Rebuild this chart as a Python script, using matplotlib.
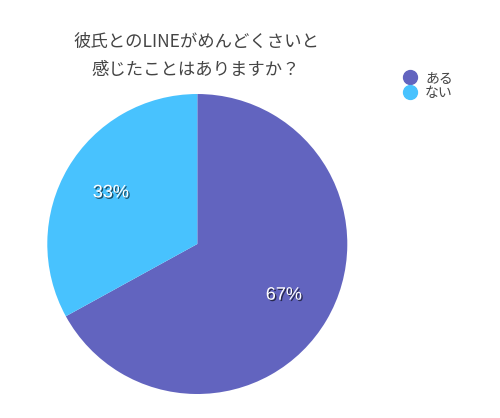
import matplotlib
matplotlib.use("Agg")
import matplotlib.pyplot as plt
import matplotlib.patheffects as pe
from matplotlib.lines import Line2D

plt.rcParams['font.family'] = ['Noto Sans CJK JP', 'DejaVu Sans']

# data
labels = ["ある", "ない"]
values = [67, 33]
colors = ["#6264BF", "#48C2FE"]
title_lines = ["彼氏とのLINEがめんどくさいと", "感じたことはありますか？"]

fig = plt.figure(figsize=(5, 4.18), dpi=100)
fig.patch.set_facecolor("white")

# pie axes: center ~ (197, 244) px, radius ~150 px
ax = fig.add_axes([0.0946, 0.0574, 0.6, 0.7177])
wedges, texts, autotexts = ax.pie(
    values, colors=colors, startangle=90, counterclock=False,
    autopct=lambda p: f"{p:.0f}%", pctdistance=0.67,
    wedgeprops=dict(linewidth=0, edgecolor="none"),
)
ax.set_xlim(-1.0, 1.0)
ax.set_ylim(-1.0, 1.0)

for t in autotexts:
    t.set_color("white")
    t.set_fontsize(13)
    t.set_family(["Liberation Sans", "DejaVu Sans"])
    t.set_path_effects([pe.withSimplePatchShadow(offset=(1, -1), shadow_rgbFace="black", alpha=0.6)])

# title
fig.text(196 / 500, 1 - 42 / 418, title_lines[0], ha="center", va="center",
         fontsize=12.5, color="#444444")
fig.text(196 / 500, 1 - 70 / 418, title_lines[1], ha="center", va="center",
         fontsize=12.5, color="#444444")

# legend
handles = [Line2D([0], [0], marker="o", linestyle="", markersize=10,
                  markerfacecolor=c, markeredgecolor=c) for c in colors]
fig.legend(handles, labels, loc="upper left", bbox_to_anchor=(396 / 500, 1 - 64 / 418),
           frameon=False, fontsize=10, handlelength=1.0, handletextpad=0.6,
           labelspacing=0.05, borderpad=0, labelcolor="#444444")

fig.savefig("out.png", dpi=100, facecolor="white")
